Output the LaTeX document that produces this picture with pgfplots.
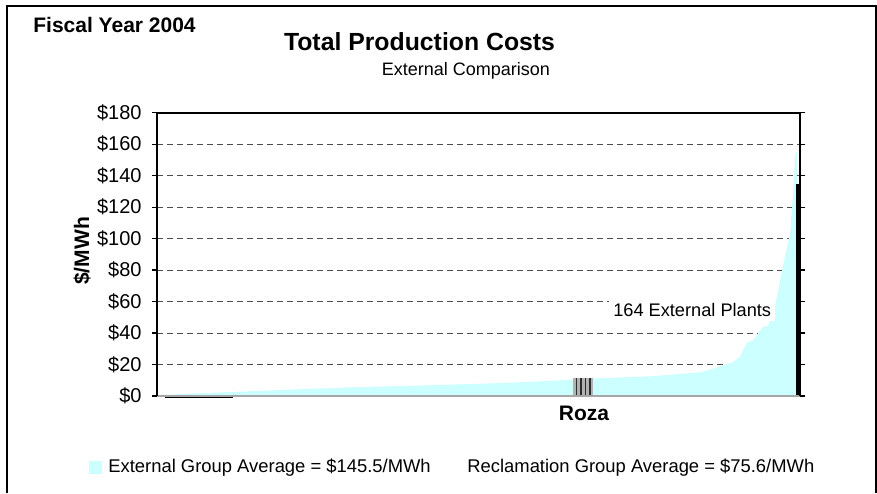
\documentclass[border=0pt]{standalone}
\usepackage{pgfplots}
\pgfplotsset{compat=1.18}
\usepackage{fontspec}
\setmainfont{Liberation Sans}
\definecolor{extcyan}{RGB}{204,255,255}
\begin{document}
\begin{tikzpicture}
\path[use as bounding box] (0,0) rectangle (438.5pt,246.5pt);
\draw[black, line width=0.6pt] (3.5pt,0) -- (3.5pt,243.5pt) -- (438pt,243.5pt) -- (438pt,0);
\node[font=\bfseries\fontsize{10.5}{12}\selectfont] at (57.25pt,234.25pt) {Fiscal Year 2004};
\node[anchor=base, font=\bfseries\fontsize{12.4}{14}\selectfont] at (209.75pt,221pt) {Total Production Costs};
\node[font=\fontsize{9}{10}\selectfont] at (233pt,211pt) {External Comparison};
\node[font=\bfseries\fontsize{10.5}{12}\selectfont, rotate=90] at (41pt,121pt) {\$/MWh};
\node[font=\bfseries\fontsize{10.5}{12}\selectfont] at (292pt,39.75pt) {Roza};
\fill[extcyan] (44.5pt,9.5pt) rectangle (51pt,16pt);
\node[anchor=west, font=\fontsize{9.2}{10}\selectfont, inner sep=0pt] at (54pt,12.75pt) {External Group Average = \$145.5/MWh};
\node[anchor=west, font=\fontsize{9.2}{10}\selectfont, inner sep=0pt] at (233.5pt,12.75pt) {Reclamation Group Average = \$75.6/MWh};
\begin{axis}[
  at={(78.5pt,48.5pt)}, anchor=south west,
  scale only axis, width=321.5pt, height=141.65pt,
  xmin=0, xmax=170, ymin=0, ymax=180,
  xtick=\empty,
  ytick={0,20,...,180},
  yticklabel={\$\pgfmathprintnumber{\tick}},
  /pgf/number format/assume math mode=true,
  tick label style={font=\fontsize{10}{12}\selectfont},
  yticklabel style={xshift=-1.7pt},
  tick align=outside, major tick length=2.5pt,
  ytick style={black, line width=0.6pt},
  ymajorgrids, grid style={gray!60!black, line width=0.5pt, dash pattern=on 3pt off 2pt},
  axis line style={draw=none},
  clip=false,
]
% external plants sorted cost curve
\addplot[fill=extcyan, draw=none] coordinates {
(0,0) (0,0.5) (11.4,1.8) (24.6,3.0) (37.8,4.3) (51.0,5.5) (64.2,6.3) (77.5,7.2)
(90.7,8.2) (103.9,9.6) (110.0,10.5) (117.1,11.3) (130.3,12.5) (143.6,15.0)
(146.2,16.7) (152.3,21.5) (154.1,25) (156.0,34) (157.6,35.5) (160.2,44)
(161.6,44.5) (162.9,55) (163.4,57) (165.5,82.5) (167.4,104) (168.2,129)
(168.7,152) (169.0,155) (169.2,155) (169.2,0)
} -- cycle;
% Roza plants
\addplot[fill=gray!60, draw=none] coordinates {
(110.0,0) (110.0,11.5) (115.3,11.5) (115.3,0)
} -- cycle;
\addplot[ycomb, draw=gray!35!black, line width=0.6pt, mark=none] coordinates {
(110.9,11.5) (112.1,11.5) (113.3,11.5) (114.5,11.5)
};
% reclamation plants (black)
\addplot[fill=black, draw=none] coordinates {
(2.1,0) (2.1,-1.2) (20.1,-1.2) (20.1,0)
} -- cycle;
\addplot[fill=black, draw=none] coordinates {
(169.0,0) (169.0,135) (170,135) (170,0)
} -- cycle;
\node[fill=white, inner sep=2pt, font=\fontsize{9.1}{11}\selectfont] at (axis cs:141.5,54.6) {164 External Plants};
\draw[gray!70, line width=0.6pt] (rel axis cs:0,0) -- (rel axis cs:1,0);
\draw[black, line width=1pt] (rel axis cs:0,0) -- (rel axis cs:0,1) -- (rel axis cs:1,1) -- (rel axis cs:1,0);
\end{axis}
\end{tikzpicture}
\end{document}
